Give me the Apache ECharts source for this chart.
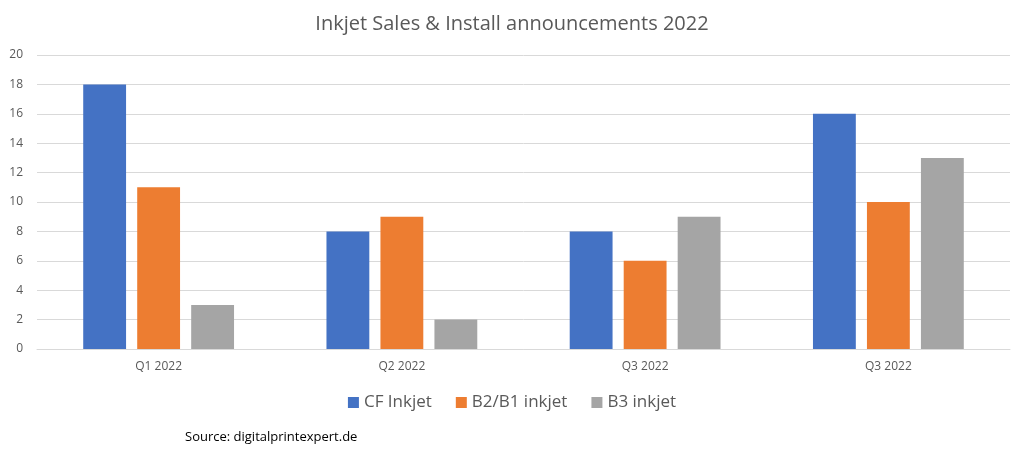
<!DOCTYPE html>
<html>
<head>
<meta charset="utf-8">
<script src="https://cdn.jsdelivr.net/npm/echarts@6/dist/echarts.min.js"></script>
<style>html,body{margin:0;padding:0;background:#fff}#c{width:1024px;height:453px}</style>
</head>
<body>
<div id="c"></div>
<script>
const categories = ['Q1 2022', 'Q2 2022', 'Q3 2022', 'Q3 2022'];
const cfInkjet = [18, 8, 8, 16];
const b2b1Inkjet = [11, 9, 6, 10];
const b3Inkjet = [3, 2, 9, 13];
const seriesNames = ['CF Inkjet', 'B2/B1 inkjet', 'B3 inkjet'];
const colors = ['#4472C4', '#ED7D31', '#A5A5A5'];
const FONT = 'Open Sans';

const chart = echarts.init(document.getElementById('c'));
chart.setOption({
  animation: false,
  color: colors,
  title: [{
    text: 'Inkjet Sales & Install announcements 2022',
    left: 'center', top: 9,
    textStyle: {fontFamily: FONT, fontSize: 20, fontWeight: 'normal', color: '#595959'}
  }, {
    text: 'Source: digitalprintexpert.de',
    left: 180, top: 426,
    textStyle: {fontFamily: FONT, fontSize: 13, fontWeight: 'normal', color: '#000'}
  }],
  legend: {
    top: 389, left: 'center',
    itemWidth: 11, itemHeight: 11, itemGap: 24,
    icon: 'rect',
    textStyle: {fontFamily: FONT, fontSize: 17, color: '#595959'},
    data: seriesNames
  },
  grid: {left: 37, right: 14, top: 55, bottom: 104, containLabel: false},
  xAxis: {
    type: 'category',
    data: categories,
    axisLine: {lineStyle: {color: '#D9D9D9'}},
    axisTick: {show: false},
    axisLabel: {fontFamily: FONT, fontSize: 12, color: '#595959', margin: 12}
  },
  yAxis: {
    type: 'value', min: 0, max: 20, interval: 2,
    axisLine: {show: false}, axisTick: {show: false},
    splitLine: {lineStyle: {color: '#D9D9D9'}},
    axisLabel: {fontFamily: FONT, fontSize: 12, color: '#595959', margin: 14}
  },
  series: [
    {name: seriesNames[0], type: 'bar', data: cfInkjet, barGap: '26%', barCategoryGap: '38%'},
    {name: seriesNames[1], type: 'bar', data: b2b1Inkjet},
    {name: seriesNames[2], type: 'bar', data: b3Inkjet}
  ]
});
</script>
</body>
</html>
